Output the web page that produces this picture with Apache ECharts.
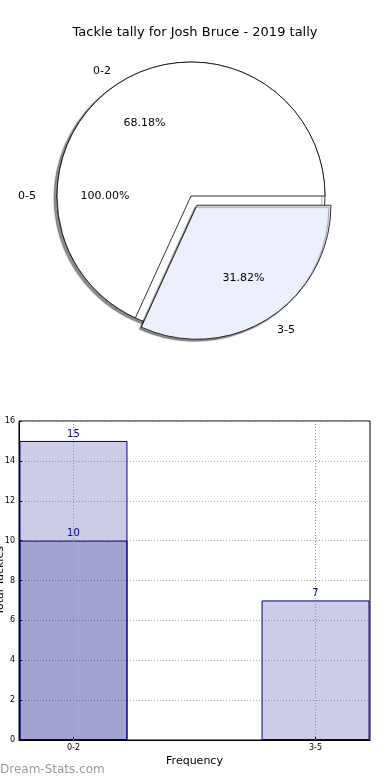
<!DOCTYPE html>
<html><head><meta charset="utf-8">
<script src="https://cdn.jsdelivr.net/npm/echarts@6/dist/echarts.min.js"></script>
<style>html,body{margin:0;padding:0;background:#fff}#c{width:390px;height:780px}</style>
</head><body><div id="c"></div>
<script>
const title = 'Tackle tally for Josh Bruce - 2019 tally';
const pieOuterName = '0-5';
const pieCategories = ['0-2', '3-5'];
const pieValues = [15, 7];
const barCategories = ['0-2', '3-5'];
const barTotal = [15, 7];
const barHighlight = [10];
const xName = 'Frequency';
const yName = 'Total Tackles';
const watermark = 'Dream-Stats.com';

const FONT = 'DejaVu Sans';
const C = [191, 196];
const R = 134;
const pct = p => p.percent.toFixed(2) + '%';
const total = pieValues.reduce((a, b) => a + b, 0);

const outerData = [{ name: pieOuterName, value: total }];
const mainData = pieCategories.map((n, i) => ({
  name: n, value: pieValues[i], selected: i === 1,
  itemStyle: i === 1
    ? { color: '#EBF0FC', shadowColor: 'rgba(0,0,0,0.45)', shadowBlur: 1, shadowOffsetX: -2, shadowOffsetY: 2 }
    : { color: '#ffffff' }
}));
const pieBase = {
  type: 'pie', center: C, startAngle: 0, clockwise: false,
  avoidLabelOverlap: false, animation: false, silent: true,
  selectedMode: 'single', selectedOffset: 11
};

const chart = echarts.init(document.getElementById('c'), null, { renderer: 'canvas' });
chart.setOption({
  animation: false,
  textStyle: { fontFamily: FONT },
  title: { text: title, left: 'center', top: 21, textStyle: { fontFamily: FONT, fontSize: 13, fontWeight: 'normal', color: '#000' } },
  graphic: [{ type: 'text', left: 0, top: 764, style: { text: watermark, font: '12px ' + FONT, fill: '#9a9a9a' } }],
  grid: { left: 19, right: 20, top: 421, bottom: 40, containLabel: false, outerBoundsMode: 'none', show: true, borderColor: '#000', borderWidth: 1, backgroundColor: 'transparent' },
  xAxis: {
    type: 'value', min: -0.225, max: 1.225,
    name: xName, nameLocation: 'middle', nameGap: 16, nameMoveOverlap: false,
    nameTextStyle: { fontFamily: FONT, fontSize: 11, color: '#000' },
    axisLine: { onZero: false, lineStyle: { color: '#000' } },
    axisTick: { inside: true, length: 3, customValues: [0, 1], lineStyle: { color: '#000' } },
    axisLabel: { customValues: [0, 1], formatter: v => barCategories[Math.round(v)] || '', fontSize: 8, color: '#000', margin: 4, fontFamily: FONT },
    splitLine: { show: false }
  },
  yAxis: {
    type: 'value', min: 0, max: 16, interval: 2,
    name: yName, nameLocation: 'middle', nameRotate: 90, nameGap: 13, nameMoveOverlap: false,
    nameTextStyle: { fontFamily: FONT, fontSize: 11, color: '#000' },
    axisLine: { show: true, onZero: false, lineStyle: { color: '#000' } },
    axisTick: { show: true, inside: true, length: 3, lineStyle: { color: '#000' } },
    axisLabel: { fontSize: 8, color: '#000', margin: 4, fontFamily: FONT },
    splitLine: { show: true, lineStyle: { color: '#aaaaaa', type: [1, 2], width: 1 } }
  },
  series: [
    Object.assign({}, pieBase, {
      radius: R, data: outerData,
      itemStyle: { color: '#fff', borderColor: '#000', borderWidth: 0.8, shadowColor: 'rgba(0,0,0,0.45)', shadowBlur: 1, shadowOffsetX: -3, shadowOffsetY: 2 },
      label: { show: true, position: 'outside', color: '#000', fontSize: 11, fontFamily: FONT, formatter: '{b}', distanceToLabelLine: 0 },
      labelLine: { show: false, length: 21, length2: 0 }
    }),
    Object.assign({}, pieBase, {
      radius: R, data: mainData,
      itemStyle: { borderColor: '#000', borderWidth: 0.8 },
      label: { show: true, position: 'outside', color: '#000', fontSize: 11, fontFamily: FONT, formatter: '{b}', distanceToLabelLine: 0 },
      labelLine: { show: false, length: 14, length2: 0 }
    }),
    Object.assign({}, pieBase, {
      radius: [R * 0.24, R], data: outerData.map(d => Object.assign({}, d)),
      itemStyle: { color: 'rgba(0,0,0,0)', borderWidth: 0 },
      label: { show: true, position: 'inside', color: '#000', fontSize: 11, fontFamily: FONT, formatter: pct },
      labelLine: { show: false }
    }),
    Object.assign({}, pieBase, {
      radius: [R * 0.24, R], data: mainData.map(d => ({ name: d.name, value: d.value, selected: d.selected })),
      itemStyle: { color: 'rgba(0,0,0,0)', borderWidth: 0 },
      label: { show: true, position: 'inside', color: '#000', fontSize: 11, fontFamily: FONT, formatter: pct },
      labelLine: { show: false }
    }),
    {
      type: 'bar', name: 'total', barWidth: 108, barGap: '-100%',
      data: barTotal.map((v, i) => [i, v]),
      itemStyle: { color: 'rgba(0,0,128,0.2)', borderColor: '#000080', borderWidth: 1 },
      label: { show: true, position: 'top', distance: 2, color: '#00008B', fontSize: 10, fontFamily: FONT, formatter: p => p.value[1] }
    },
    {
      type: 'bar', name: 'highlight', barWidth: 108, barGap: '-100%',
      data: barHighlight.map((v, i) => [i, v]),
      itemStyle: { color: 'rgba(0,0,128,0.2)', borderColor: '#000080', borderWidth: 1 },
      label: { show: true, position: 'top', distance: 2, color: '#00008B', fontSize: 10, fontFamily: FONT, formatter: p => p.value[1] },
      markLine: {
        silent: true, symbol: 'none', z: 10, label: { show: false },
        lineStyle: { color: '#8c8ca8', type: [1, 2], width: 1 },
        emphasis: { disabled: true },
        data: barCategories.map((c, i) => ({ xAxis: String(i) }))
      }
    }
  ]
});
</script></body></html>
